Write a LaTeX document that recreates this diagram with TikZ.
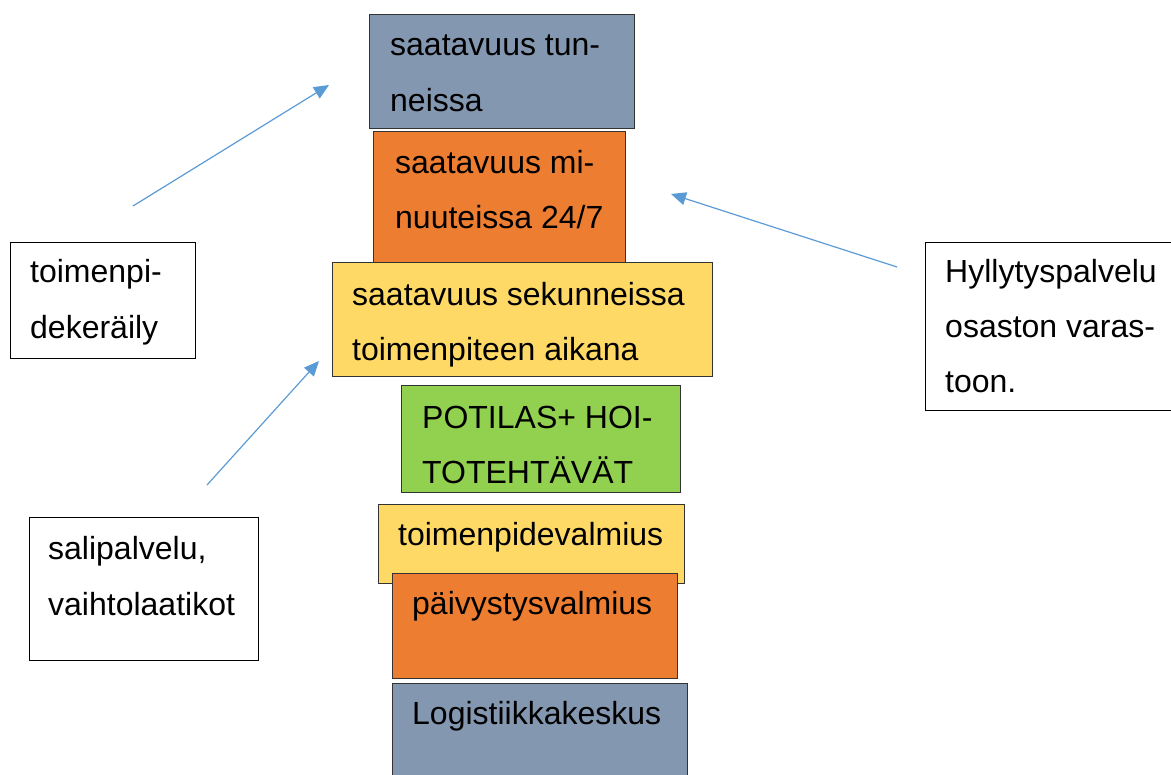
\documentclass[tikz,border=0pt]{standalone}
\usepackage{fontspec}
\setmainfont{Liberation Sans}
\usetikzlibrary{arrows.meta}
\definecolor{cblue}{HTML}{8497B0}
\definecolor{corange}{HTML}{ED7D31}
\definecolor{cyellow}{HTML}{FFD966}
\definecolor{cgreen}{HTML}{92D050}
\definecolor{carrow}{HTML}{5B9BD5}
\tikzset{
  box/.style={draw=black!80, line width=1pt, inner sep=0pt, anchor=north west},
  wbox/.style={draw=black, line width=1pt, fill=white, inner sep=0pt, anchor=north west},
  txt/.style={inner sep=0pt, anchor=base west, font=\fontsize{32}{38}\selectfont},
  arr/.style={draw=carrow, line width=1.2pt, -{Triangle[length=15pt,width=13pt]}}
}
\newcommand{\bx}[7]{% name, style, fill, x1, y1, x2, y2
  \node[#2, fill=#3, minimum width=#6pt-#4pt, minimum height=#7pt-#5pt] (#1) at (#4,#5) {};}
\begin{document}
\begin{tikzpicture}[x=1pt,y=-1pt]
\useasboundingbox (0,0) rectangle (1171,775);
\begin{scope}
\clip (0,0) rectangle (1171,775);
% stack
\bx{b1}{box}{cblue}{369}{14}{634}{128}
\node[txt] (t1a) at (390,56) {saatavuus tun-};
\node[txt] (t1b) at (390,112) {neissa};
\bx{b2}{box}{corange}{373}{131}{625}{262}
\node[txt] (t2a) at (395,174) {saatavuus mi-};
\node[txt] (t2b) at (395,229) {nuuteissa 24/7};
\bx{b3}{box}{cyellow}{332}{262}{712}{376}
\node[txt] (t3a) at (352,306) {saatavuus sekunneissa};
\node[txt] (t3b) at (352,361) {toimenpiteen aikana};
\bx{b4}{box}{cgreen}{401}{385}{680}{492}
\node[txt] (t4a) at (422,429) {POTILAS+ HOI-};
\node[txt] (t4b) at (422,484) {TOTEHTÄVÄT};
\bx{b5}{box}{cyellow}{378}{504}{684}{583}
\node[txt] (t5a) at (398,546) {toimenpidevalmius};
\bx{b6}{box}{corange}{392}{573}{677}{678}
\node[txt] (t6a) at (412,614) {päivystysvalmius};
\bx{b7}{box}{cblue}{392}{683}{687}{790}
\node[txt] (t7a) at (412,724) {Logistiikkakeskus};
% side boxes
\bx{w1}{wbox}{white}{10}{242}{195}{358}
\node[txt] (w1a) at (30,283) {toimenpi-};
\node[txt] (w1b) at (30,339) {dekeräily};
\bx{w2}{wbox}{white}{925}{242}{1180}{410}
\node[txt] (w2a) at (945,283) {Hyllytyspalvelu};
\node[txt] (w2b) at (945,338) {osaston varas-};
\node[txt] (w2c) at (945,393) {toon.};
\bx{w3}{wbox}{white}{29}{517}{258}{660}
\node[txt] (w3a) at (48,559) {salipalvelu,};
\node[txt] (w3b) at (48,615) {vaihtolaatikot};
% arrows
\coordinate (a1s) at (133,206);
\coordinate (a1e) at (329,85);
\coordinate (a2s) at (897,267);
\coordinate (a2e) at (671,194);
\coordinate (a3s) at (207,485);
\coordinate (a3e) at (319,361);
\draw[arr] (a1s) -- (a1e);
\draw[arr] (a2s) -- (a2e);
\draw[arr] (a3s) -- (a3e);
\end{scope}
\end{tikzpicture}
\end{document}
